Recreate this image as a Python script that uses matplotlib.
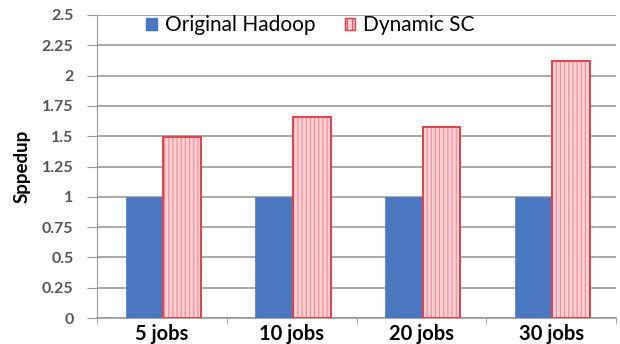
import matplotlib
matplotlib.use("Agg")
import matplotlib.pyplot as plt
import numpy as np
from matplotlib.patches import Patch

plt.rcParams['font.family'] = ['Lato', 'DejaVu Sans']

categories = ["5 jobs", "10 jobs", "20 jobs", "30 jobs"]
original = [1.0, 1.0, 1.0, 1.0]
dynamic = [1.49, 1.66, 1.58, 2.12]
yticks = [0, 0.25, 0.5, 0.75, 1, 1.25, 1.5, 1.75, 2, 2.25, 2.5]
ytick_labels = ["0", "0.25", "0.5", "0.75", "1", "1.25", "1.5", "1.75", "2", "2.25", "2.5"]

fig = plt.figure(figsize=(6.2, 3.44), dpi=100)
ax = fig.add_axes([97/620, 1-318/344, (616-97)/620, (318-15)/344])

x = np.arange(len(categories))
w = 0.29
ax.bar(x - w/2 + 0.01, original, w, color="#4A78C0", edgecolor="#4A78C0", linewidth=0.5,
       label="Original Hadoop", zorder=3)
plt.rcParams['hatch.linewidth'] = 0.8
ax.bar(x + w/2 + 0.01, dynamic, w, color="#FFD0D4", edgecolor="#F08A92", hatch="||||",
       linewidth=0, zorder=3)
ax.bar(x + w/2 + 0.01, dynamic, w, color="none", edgecolor="#E0404C", linewidth=1.4,
       zorder=4)

handles = [Patch(facecolor="#4A78C0", edgecolor="#4A78C0", label="Original Hadoop"),
           Patch(facecolor="#FFD0D4", edgecolor="#E0404C", hatch="|||", label="Dynamic SC")]
ax.legend(handles=handles, loc="upper left", bbox_to_anchor=(0.095, 1.0), ncol=2,
          frameon=False, fontsize=15, handlelength=0.5, handleheight=0.5,
          handletextpad=0.4, columnspacing=1.4, borderpad=0, borderaxespad=0)

ax.set_xlim(-0.5, len(categories) - 0.5)
ax.set_ylim(0, 2.5)
ax.set_yticks(yticks)
ax.set_yticklabels(ytick_labels, fontsize=11.5, fontweight="bold", color="#555555")
ax.set_xticks(x)
ax.set_xticklabels(categories, fontsize=14.5, fontweight="bold")
ax.tick_params(axis="x", length=0, pad=4)
ax.tick_params(axis="y", length=7, color="#999999", pad=10)
ax.set_xticks(np.arange(len(categories) + 1) - 0.5, minor=True)
ax.tick_params(axis="x", which="minor", length=4, color="#999999")
ax.yaxis.grid(True, color="#999999", linewidth=1.2, zorder=0)
ax.set_axisbelow(True)
for s in ["top", "right"]:
    ax.spines[s].set_visible(False)
ax.spines["left"].set_color("#999999")
ax.spines["bottom"].set_color("#999999")
ax.spines["bottom"].set_linewidth(1.2)
ax.set_ylabel("Sppedup", fontsize=13.5, fontweight="bold", labelpad=8)

fig.savefig("out.png", dpi=100)
